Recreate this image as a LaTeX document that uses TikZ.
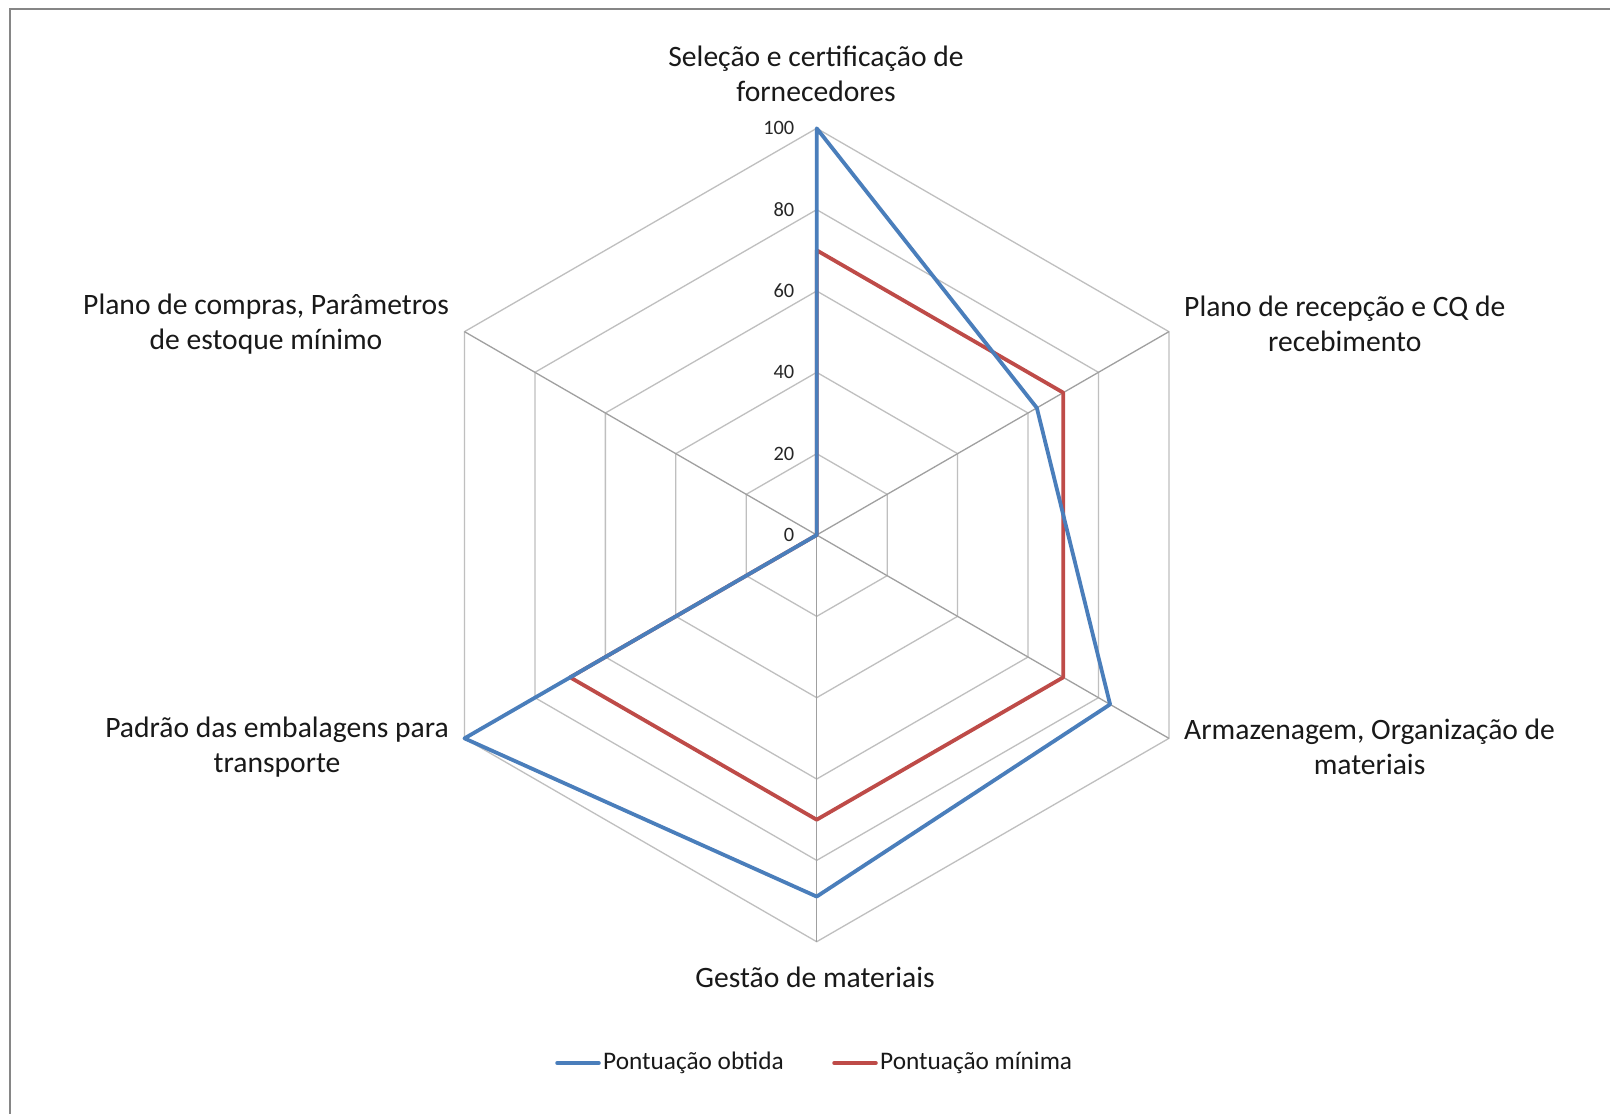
\documentclass[tikz,border=0pt]{standalone}
\usepackage{fontspec}
\setmainfont{Carlito}
\definecolor{ringc}{RGB}{191,191,191}
\definecolor{spokec}{RGB}{160,160,160}
\definecolor{bluec}{RGB}{74,126,187}
\definecolor{redc}{RGB}{190,75,72}
\definecolor{framec}{RGB}{134,134,134}
\begin{document}
\begin{tikzpicture}[x=1pt,y=-1pt,
  ring/.style={draw=ringc, line width=1.3pt},
  spoke/.style={draw=spokec, line width=1.3pt},
  series/.style={line width=3.8pt, line join=round},
  ticklbl/.style={anchor=east, inner sep=0pt, font=\fontsize{20.4}{24}\selectfont, text=black!85},
  axlbl/.style={inner sep=0pt, align=center, font=\fontsize{29.6}{35.4}\selectfont, text=black!90},
  leglbl/.style={anchor=west, inner sep=0pt, font=\fontsize{25.3}{30}\selectfont, text=black!90}]
\useasboundingbox (0,0) rectangle (1610,1114);
\fill[white] (0,0) rectangle (1610,1114);
\draw[framec, line width=2pt] (10,1120) -- (10,9) -- (1620,9);
\def\cx{816.7}\def\cy{535}\def\R{406.7}
\coordinate (C) at (\cx,\cy);
% rings
\foreach \k in {1,...,5}{
  \draw[ring] ({\cx+\R*(\k/5)*cos(90)},{\cy-\R*(\k/5)*sin(90)})
    \foreach \a in {30,-30,-90,-150,150}{ -- ({\cx+\R*(\k/5)*cos(\a)},{\cy-\R*(\k/5)*sin(\a)})} -- cycle;
}
% spokes
\foreach \a [count=\i] in {90,30,-30,-90,-150,150}{
  \coordinate (v\i) at ({\cx+\R*cos(\a)},{\cy-\R*sin(\a)});
  \draw[spoke] (C) -- (v\i);
}
% tick labels
\foreach \v in {0,20,40,60,80,100}{
  \node[ticklbl] (t\v) at (794.5,{\cy-\R*(\v/100)}) {\v};
}
% series points
\foreach \a/\b/\r [count=\i] in {90/100/70,30/62.5/70,-30/83.3/70,-90/88.9/70,-150/100/70,150/0/0}{
  \coordinate (b\i) at ({\cx+\R*(\b/100)*cos(\a)},{\cy-\R*(\b/100)*sin(\a)});
  \coordinate (r\i) at ({\cx+\R*(\r/100)*cos(\a)},{\cy-\R*(\r/100)*sin(\a)});
}
\draw[series, draw=redc] (r1) -- (r2) -- (r3) -- (r4) -- (r5) -- (r6) -- cycle;
\draw[series, draw=bluec] (b1) -- (b2) -- (b3) -- (b4) -- (b5) -- (b6) -- cycle;
% axis labels
\node[axlbl] (l1) at (816,74) {Seleção e certificação de\\fornecedores};
\node[axlbl, anchor=west] (l2) at (1184,324) {Plano de recepção e CQ de\\recebimento};
\node[axlbl, anchor=west] (l3) at (1184,747) {Armazenagem, Organização de\\materiais};
\node[axlbl] (l4) at (815,977.5) {Gestão de materiais};
\node[axlbl, anchor=east] (l5) at (449,747) {Padrão das embalagens para\\transporte};
\node[axlbl, anchor=east] (l6) at (449,324) {Plano de compras, Parâmetros\\de estoque mínimo};
% legend
\coordinate (lb1) at (557,1063); \coordinate (lb2) at (599,1063);
\coordinate (lr1) at (834,1063); \coordinate (lr2) at (876,1063);
\draw[bluec, line width=3.5pt, line cap=round] (lb1) -- (lb2);
\draw[redc, line width=3.5pt, line cap=round] (lr1) -- (lr2);
\node[leglbl] (g1) at (603,1063) {Pontuação obtida};
\node[leglbl] (g2) at (880,1063) {Pontuação mínima};
\end{tikzpicture}
\end{document}
